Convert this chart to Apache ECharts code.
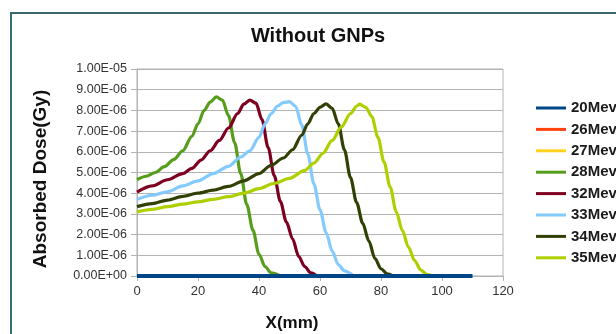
<!DOCTYPE html>
<html>
<head>
<meta charset="utf-8">
<script src="https://cdn.jsdelivr.net/npm/echarts@6/dist/echarts.min.js"></script>
<style>
html,body{margin:0;padding:0;background:#fff;}
#chart{width:616px;height:334px;}
</style>
</head>
<body>
<div id="chart"></div>
<script>
// Beam energies and their line colours
const seriesNames = ['20Mev', '26Mev', '27Mev', '28Mev', '32Mev', '33Mev', '34Mev', '35Mev'];
const seriesColors = ['#004586', '#ff420e', '#ffd320', '#579d1c', '#7e0021', '#83caff', '#314004', '#aecf00'];

// Depth X (mm) and absorbed dose (in units of 1e-6 Gy) per energy
const x20 = [0, 10, 20, 30, 40, 50, 60, 70, 80, 90, 100, 110];
const dose20 = [0, 0, 0, 0, 0, 0, 0, 0, 0, 0, 0, 0];

const x26 = [];
const dose26 = [];

const x27 = [];
const dose27 = [];

const x28 = [0, 3, 6, 9, 12, 15, 18, 20, 22, 24, 26, 28, 30, 32, 34, 36, 38, 40, 42, 44, 47];
const dose28 = [4.65, 4.82, 5.0, 5.28, 5.62, 6.05, 6.75, 7.35, 8.0, 8.4, 8.65, 8.5, 7.75, 6.45, 4.95, 3.45, 2.22, 1.05, 0.45, 0.15, 0];

const x32 = [0, 5, 10, 15, 18, 21, 24, 27, 30, 33, 35, 37, 39, 41, 43, 45, 47, 49, 51, 53, 55, 57, 59];
const dose32 = [4.05, 4.35, 4.65, 4.95, 5.2, 5.6, 6.05, 6.55, 7.15, 7.85, 8.3, 8.5, 8.35, 7.55, 6.2, 4.85, 3.6, 2.6, 1.8, 0.95, 0.45, 0.15, 0];

const x33 = [0, 5, 10, 15, 20, 25, 30, 34, 37, 40, 42, 44, 46, 48, 50, 52, 54, 56, 58, 60, 62, 64, 66, 68, 71];
const dose33 = [3.7, 3.9, 4.07, 4.35, 4.6, 4.95, 5.3, 5.75, 6.05, 6.7, 7.35, 7.85, 8.2, 8.38, 8.42, 8.2, 7.3, 5.9, 4.45, 3.2, 2.1, 1.2, 0.55, 0.25, 0];

const x34 = [0, 5, 10, 15, 20, 25, 30, 35, 40, 44, 48, 51, 54, 56, 58, 60, 62, 64, 66, 68, 70, 72, 74, 76, 78, 80, 82, 84];
const dose34 = [3.35, 3.5, 3.67, 3.85, 4.0, 4.15, 4.33, 4.6, 4.95, 5.35, 5.7, 6.1, 6.8, 7.35, 7.85, 8.15, 8.32, 8.1, 7.35, 6.1, 4.75, 3.55, 2.55, 1.7, 0.85, 0.35, 0.1, 0];

const x35 = [0, 5, 10, 15, 20, 25, 30, 35, 40, 45, 50, 55, 58, 61, 64, 67, 70, 72, 73, 75, 77, 79, 81, 83, 85, 87, 89, 91, 93, 95, 97];
const dose35 = [3.1, 3.22, 3.35, 3.47, 3.58, 3.7, 3.83, 4.0, 4.22, 4.47, 4.72, 5.1, 5.45, 5.93, 6.55, 7.2, 7.85, 8.2, 8.3, 8.15, 7.7, 6.7, 5.5, 4.3, 3.1, 2.2, 1.4, 0.75, 0.3, 0.08, 0];

// Axis tick labels
const yTickLabels = ['0.00E+00', '1.00E-06', '2.00E-06', '3.00E-06', '4.00E-06', '5.00E-06',
  '6.00E-06', '7.00E-06', '8.00E-06', '9.00E-06', '1.00E-05'];
const xTickLabels = ['0', '20', '40', '60', '80', '100', '120'];

const xsList = [x20, x26, x27, x28, x32, x33, x34, x35];
const dosesList = [dose20, dose26, dose27, dose28, dose32, dose33, dose34, dose35];

const FONT = '"Liberation Sans", Arial, sans-serif';

const series = seriesNames.map((name, i) => ({
  name: name,
  type: 'line',
  data: xsList[i].map((x, k) => [x, dosesList[i][k]]),
  showSymbol: false,
  symbol: 'none',
  smooth: 0.3,
  smoothMonotone: 'x',
  lineStyle: { width: i === 0 ? 4 : 3.2, color: seriesColors[i] },
  itemStyle: { color: seriesColors[i] },
  z: i === 0 ? 5 : 2
}));

const chart = echarts.init(document.getElementById('chart'), null, { renderer: 'canvas' });
chart.setOption({
  animation: false,
  backgroundColor: '#ffffff',
  grid: {
    left: 137, right: 113, top: 69, bottom: 58,
    show: true, borderColor: '#b3b3b3', borderWidth: 1
  },
  xAxis: {
    type: 'value', min: 0, max: 120, interval: 20,
    axisLine: { show: true, lineStyle: { color: '#b3b3b3' } },
    axisTick: { show: true, length: 5, lineStyle: { color: '#b3b3b3' } },
    splitLine: { show: false },
    axisLabel: {
      color: '#333333', fontSize: 13, fontFamily: FONT, margin: 9,
      formatter: v => xTickLabels[Math.round(v / 20)]
    }
  },
  yAxis: {
    type: 'value', min: 0, max: 10, interval: 1,
    axisLine: { show: true, lineStyle: { color: '#b3b3b3' } },
    axisTick: { show: true, length: 6, lineStyle: { color: '#b3b3b3' } },
    splitLine: { show: true, lineStyle: { color: '#b3b3b3', width: 1 } },
    axisLabel: {
      color: '#333333', fontSize: 12.5, fontFamily: FONT, margin: 10,
      formatter: v => yTickLabels[Math.round(v)]
    }
  },
  legend: {
    orient: 'vertical', left: 531, top: 95,
    itemWidth: 30, itemHeight: 3, itemGap: 5.4, icon: 'rect',
    data: seriesNames,
    textStyle: { fontSize: 15, fontWeight: 'bold', color: '#1a1a1a', fontFamily: FONT, lineHeight: 16 }
  },
  graphic: [
    {
      type: 'rect', shape: { x: 11, y: 13, width: 700, height: 400 },
      style: { fill: 'none', stroke: '#386a70', lineWidth: 2 }, z: -1
    },
    {
      type: 'text', x: 318, y: 36,
      style: { text: 'Without GNPs', textAlign: 'center', textVerticalAlign: 'middle',
        font: 'bold 20px ' + FONT, fill: '#111111' }
    },
    {
      type: 'text', x: 41, y: 179, rotation: Math.PI / 2,
      style: { text: 'Absorbed Dose(Gy)', textAlign: 'center', textVerticalAlign: 'middle',
        font: 'bold 19px ' + FONT, fill: '#111111' }
    },
    {
      type: 'text', x: 292, y: 323,
      style: { text: 'X(mm)', textAlign: 'center', textVerticalAlign: 'middle',
        font: 'bold 17px ' + FONT, fill: '#111111' }
    }
  ],
  series: series
});
</script>
</body>
</html>
